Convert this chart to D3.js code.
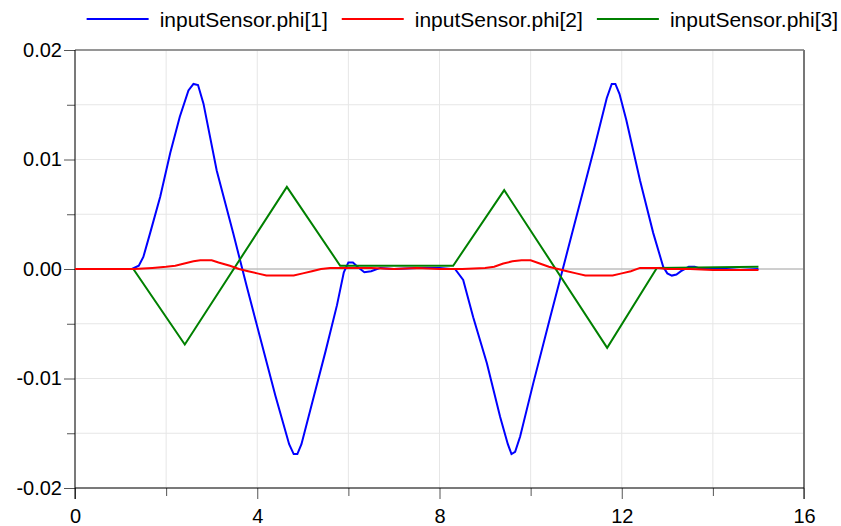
<!DOCTYPE html>
<html>
<head>
<meta charset="utf-8">
<script src="https://cdn.jsdelivr.net/npm/d3@7"></script>
<style>
  html, body { margin: 0; padding: 0; background: #fff; }
  svg { display: block; font-family: "Liberation Sans", Arial, sans-serif; }
</style>
</head>
<body>
<svg id="chart" width="841" height="526"></svg>
<script>
// ---- data ----
const seriesNames = ["inputSensor.phi[1]", "inputSensor.phi[2]", "inputSensor.phi[3]"];
const seriesColors = ["#0000ff", "#ff0000", "#008000"];

const phi1T = [0, 1.25, 1.4, 1.5, 1.65, 1.87, 2.09, 2.3, 2.49, 2.6, 2.7, 2.82, 3.11, 3.47, 3.77, 4.06, 4.4, 4.7, 4.8, 4.88, 4.97, 5.2, 5.5, 5.75, 5.9, 6.0, 6.1, 6.2, 6.35, 6.5, 6.7, 7.0, 7.5, 8.0, 8.25, 8.34, 8.52, 8.74, 9.04, 9.33, 9.5, 9.58, 9.66, 9.77, 10.06, 10.43, 10.8, 11.1, 11.4, 11.67, 11.78, 11.86, 11.95, 12.1, 12.4, 12.69, 12.91, 13.0, 13.1, 13.2, 13.3, 13.47, 13.6, 13.75, 14.0, 14.3, 14.6, 15.0];
const phi1V = [0, 0, 0.0003, 0.0011, 0.0033, 0.0066, 0.0106, 0.0139, 0.0163, 0.0169, 0.0168, 0.0151, 0.009, 0.0033, -0.0016, -0.0062, -0.0116, -0.0160, -0.0169, -0.0169, -0.0160, -0.0123, -0.0075, -0.0033, -0.0003, 0.0006, 0.0006, 0.0002, -0.0003, -0.0002, 0.0001, 0.0000, 0.0001, 0.0001, 0.0000, 0.0000, -0.0010, -0.0044, -0.0086, -0.0135, -0.0160, -0.0169, -0.0167, -0.0153, -0.0104, -0.0044, 0.0015, 0.0063, 0.0111, 0.0156, 0.0169, 0.0169, 0.0160, 0.0136, 0.0081, 0.0033, 0.0002, -0.0004, -0.0006, -0.0005, -0.0002, 0.0002, 0.0002, 0.0000, 0.0000, 0.0000, -0.0001, 0.0000];

const phi2T = [0, 1.3, 1.7, 2.0, 2.2, 2.4, 2.6, 2.75, 3.0, 3.15, 3.4, 3.6, 3.8, 4.0, 4.2, 4.8, 5.0, 5.2, 5.4, 5.6, 6.0, 6.5, 7.0, 7.5, 8.0, 8.5, 9.0, 9.2, 9.4, 9.6, 9.8, 10.0, 10.2, 10.4, 10.6, 10.8, 11.0, 11.2, 11.8, 12.0, 12.2, 12.4, 12.8, 13.0, 13.5, 14.0, 14.5, 15.0];
const phi2V = [0, 0, 0.0001, 0.0002, 0.0003, 0.0005, 0.0007, 0.0008, 0.0008, 0.0006, 0.0003, 0.0000, -0.0002, -0.0004, -0.0006, -0.0006, -0.0004, -0.0002, 0.0000, 0.0001, 0.0001, 0.0001, 0.0000, 0.0001, 0.0000, 0.0000, 0.0001, 0.0002, 0.0005, 0.0007, 0.0008, 0.0008, 0.0005, 0.0002, 0.0000, -0.0002, -0.0004, -0.0006, -0.0006, -0.0004, -0.0002, 0.0001, 0.0001, 0.0000, 0.0000, -0.0001, -0.0001, -0.0001];

const phi3T = [0, 1.28, 2.41, 4.65, 5.82, 8.3, 9.42, 11.68, 12.77, 15.0];
const phi3V = [0, 0, -0.0069, 0.0075, 0.0003, 0.0003, 0.0072, -0.0072, 0.0001, 0.0002];

const xTicks = [0, 4, 8, 12, 16];
const xMinorTicks = [2, 6, 10, 14];
const yTicks = [-0.02, -0.01, 0, 0.01, 0.02];
const yTickLabels = ["-0.02", "-0.01", "0.00", "0.01", "0.02"];
const yMinorTicks = [-0.015, -0.005, 0.005, 0.015];

// ---- layout ----
const svg = d3.select("#chart");
const m = { left: 75, right: 804, top: 50, bottom: 488 };
const x = d3.scaleLinear().domain([0, 16]).range([m.left, m.right]);
const y = d3.scaleLinear().domain([-0.02, 0.02]).range([m.bottom, m.top]);
const FONT = "20px";
const LEGEND_FONT = "21px";

// grid
const grid = svg.append("g");
xTicks.concat(xMinorTicks).forEach(t => {
  grid.append("line").attr("x1", x(t)).attr("x2", x(t)).attr("y1", m.top).attr("y2", m.bottom)
    .attr("stroke", "#e6e6e6").attr("stroke-width", 1);
});
yTicks.concat(yMinorTicks).forEach(t => {
  grid.append("line").attr("x1", m.left).attr("x2", m.right).attr("y1", y(t)).attr("y2", y(t))
    .attr("stroke", "#e6e6e6").attr("stroke-width", 1);
});
// zero line
svg.append("line").attr("x1", m.left).attr("x2", m.right).attr("y1", y(0)).attr("y2", y(0))
  .attr("stroke", "#aaaaaa").attr("stroke-width", 1);

// frame top/right
svg.append("line").attr("x1", m.left).attr("x2", m.right).attr("y1", m.top).attr("y2", m.top)
  .attr("stroke", "#777").attr("stroke-width", 1.5);
svg.append("line").attr("x1", m.right).attr("x2", m.right).attr("y1", m.top).attr("y2", m.bottom + 11)
  .attr("stroke", "#777").attr("stroke-width", 2);

// axes
const yAxis = d3.axisLeft(y).tickValues(yTicks).tickFormat((d, i) => yTickLabels[i]).tickSize(11).tickPadding(2);
const yMinor = d3.axisLeft(y).tickValues(yMinorTicks).tickFormat("").tickSize(8);
const xAxis = d3.axisBottom(x).tickValues(xTicks).tickFormat(d3.format("d")).tickSize(11).tickPadding(10);
const xMinor = d3.axisBottom(x).tickValues(xMinorTicks).tickFormat("").tickSize(8);

function styleAxis(g) {
  g.select(".domain").remove();
  g.selectAll(".tick line").attr("stroke", "#555");
  g.selectAll("text").attr("fill", "#000").style("font-size", FONT).style("font-family", "Liberation Sans, Arial, sans-serif");
}
svg.append("g").attr("transform", `translate(${m.left},0)`).call(yMinor).call(styleAxis);
svg.append("g").attr("transform", `translate(${m.left},0)`).call(yAxis).call(styleAxis);
svg.append("g").attr("transform", `translate(0,${m.bottom})`).call(xMinor).call(styleAxis);
svg.append("g").attr("transform", `translate(0,${m.bottom})`).call(xAxis).call(styleAxis);

svg.append("line").attr("x1", m.left).attr("x2", m.left).attr("y1", m.top).attr("y2", m.bottom + 11)
  .attr("stroke", "#000").attr("stroke-width", 1);
svg.append("line").attr("x1", m.left).attr("x2", m.right).attr("y1", m.bottom).attr("y2", m.bottom)
  .attr("stroke", "#000").attr("stroke-width", 1);

// series
const series = [
  { t: phi1T, v: phi1V },
  { t: phi2T, v: phi2V },
  { t: phi3T, v: phi3V }
];
const line = d3.line().x(d => x(d[0])).y(d => y(d[1])).curve(d3.curveLinear);
const drawOrder = [0, 2, 1];
drawOrder.forEach(i => {
  const s = series[i];
  const pts = s.t.map((t, k) => [t, s.v[k]]);
  svg.append("path").datum(pts).attr("d", line)
    .attr("fill", "none").attr("stroke", seriesColors[i]).attr("stroke-width", 2)
    .attr("stroke-linejoin", "miter");
});

// legend (laid out right to left, ending near right edge)
const legend = svg.append("g").style("font-size", LEGEND_FONT);
let cursor = 838;
const lineLen = 62, lineGap = 11, itemGap = 14;
for (let i = seriesNames.length - 1; i >= 0; i--) {
  const txt = legend.append("text").attr("y", 26.5).attr("fill", "#000").text(seriesNames[i]);
  const w = txt.node().getComputedTextLength();
  txt.attr("x", cursor - w);
  const lineEnd = cursor - w - lineGap;
  legend.append("line").attr("x1", lineEnd - lineLen).attr("x2", lineEnd).attr("y1", 19).attr("y2", 19)
    .attr("stroke", seriesColors[i]).attr("stroke-width", 2);
  cursor = lineEnd - lineLen - itemGap;
}
</script>
</body>
</html>
